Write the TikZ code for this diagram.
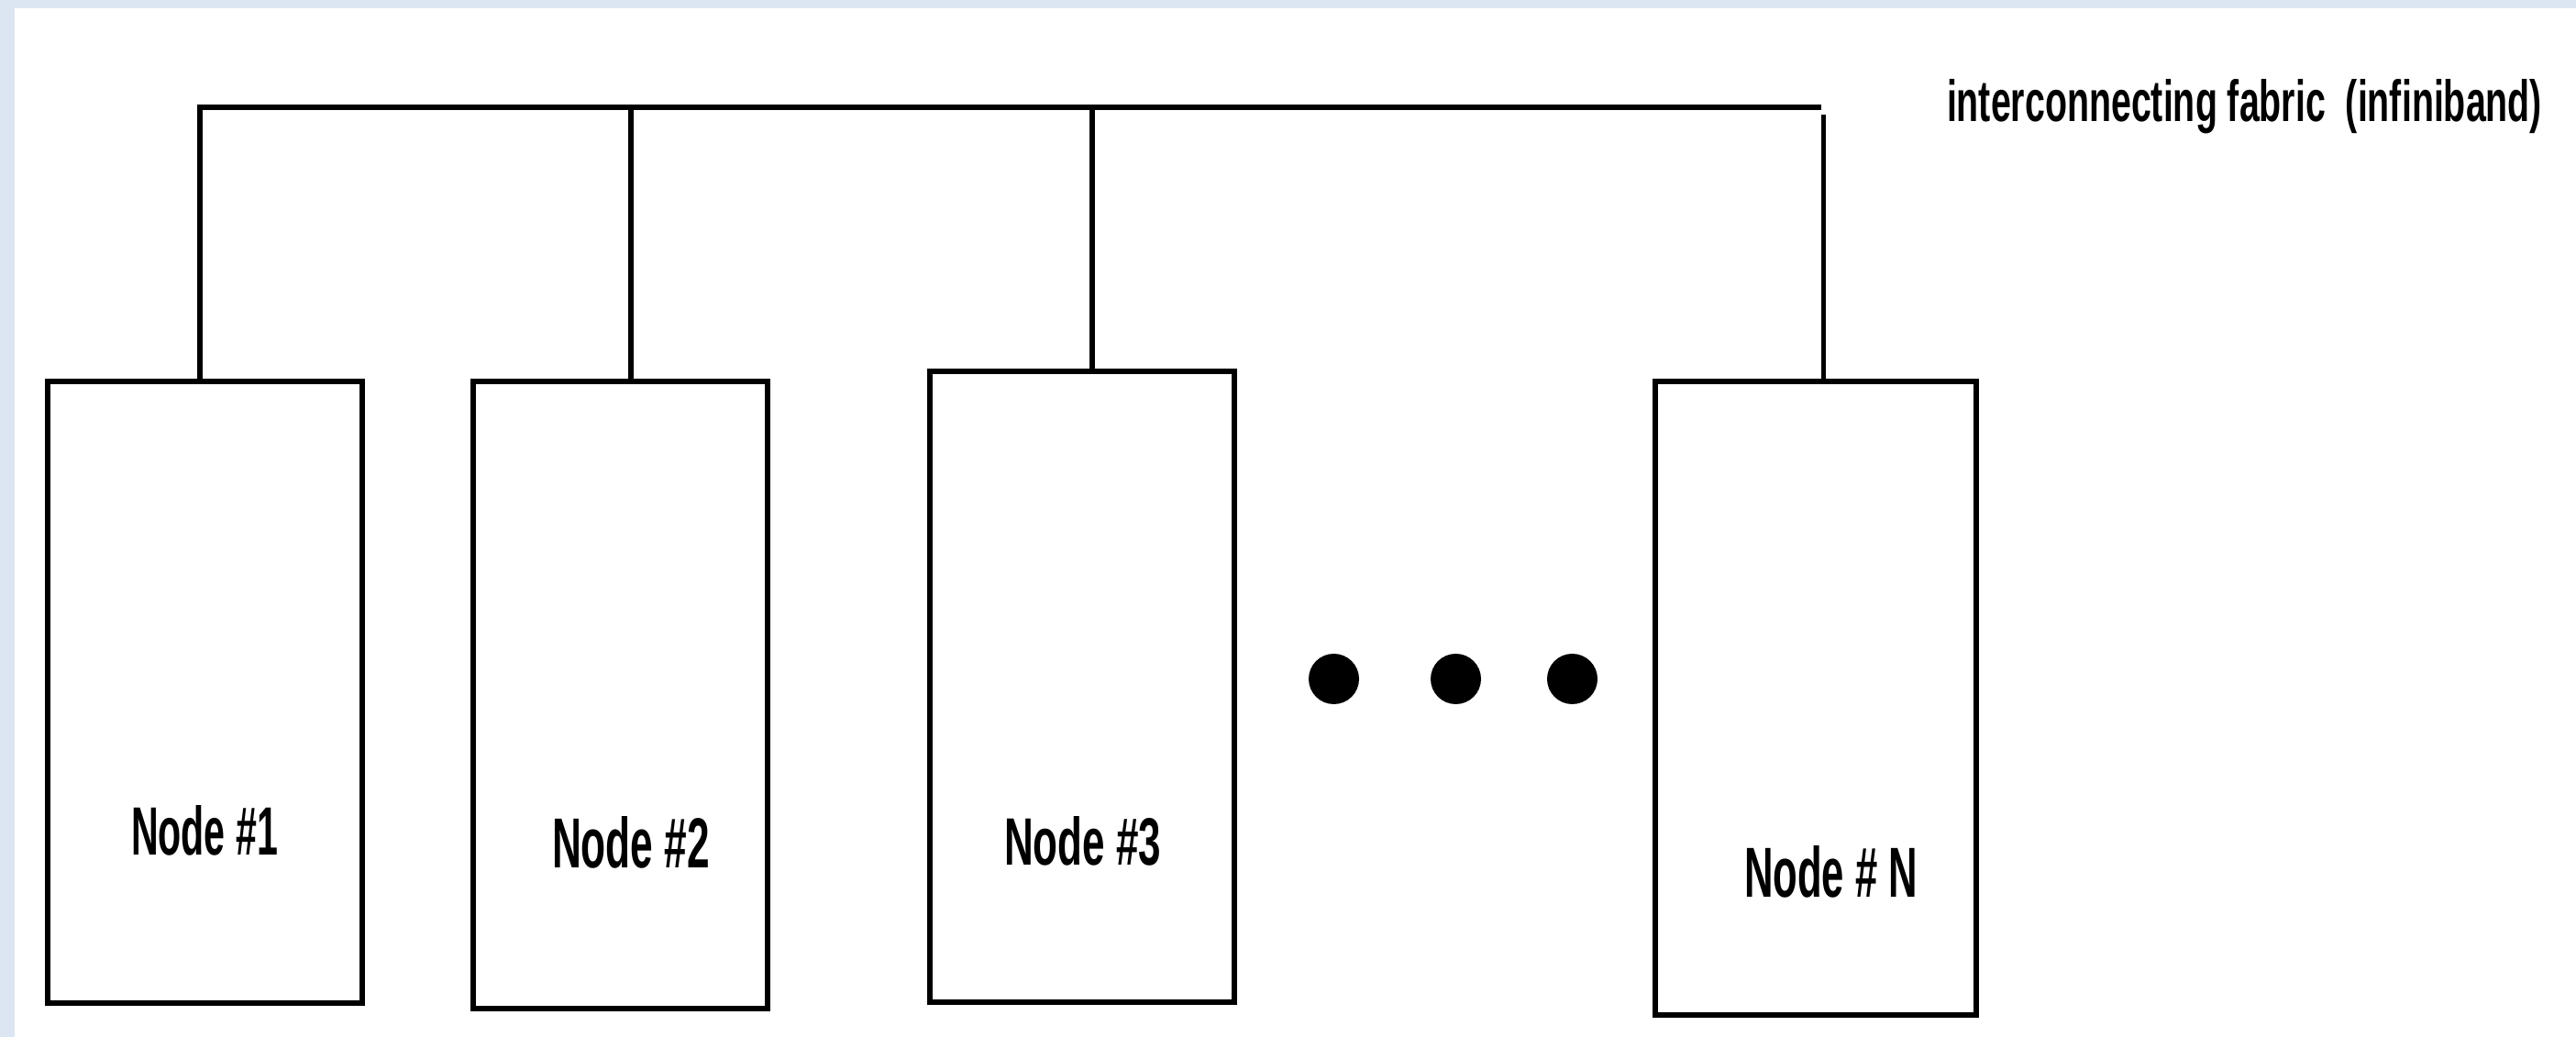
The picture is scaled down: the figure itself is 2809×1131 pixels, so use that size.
\documentclass[tikz,border=0pt]{standalone}
\usepackage{fontspec}
\setmainfont{Liberation Sans}
\definecolor{bgblue}{HTML}{DCE6F2}
\begin{document}
\begin{tikzpicture}[x=0.25pt,y=-0.25pt, line width=1.375pt,
  box/.style={draw=black, rectangle, outer sep=0pt, inner sep=0pt, anchor=north west},
  dot/.style={circle, fill=black, inner sep=0pt, outer sep=0pt, minimum size=13.75pt},
  lbl/.style={inner sep=0pt, outer sep=0pt, font=\fontsize{20}{24}\selectfont\bfseries},
  wire/.style={draw=black, line width=1.375pt}]
% background
\fill[bgblue] (0,0) rectangle (2809,1131);
\fill[white] (16,9) rectangle (2809,1131);
\useasboundingbox (0,0) rectangle (2809,1131);

% boxes
\node[box, minimum width=85.75pt, minimum height=169.5pt] (box1) at (52,416) {};
\node[box, minimum width=80.25pt, minimum height=171pt] (box2) at (516,416) {};
\node[box, minimum width=83pt, minimum height=172pt] (box3) at (1014,405) {};
\node[box, minimum width=87.5pt, minimum height=172.75pt] (boxN) at (1805,416) {};

% labels
\node[lbl] (l1) at (223,906) {\resizebox{40pt}{13.5pt}{Node \#1}};
\node[lbl] (l2) at (688,919) {\resizebox{43pt}{14pt}{Node \#2}};
\node[lbl] (l3) at (1180.5,917.5) {\resizebox{42.75pt}{13.25pt}{Node \#3}};
\node[lbl] (lN) at (1996.5,951) {\resizebox{47.25pt}{14pt}{Node \# N}};
\node[lbl, anchor=base west] (fab) at (2123,133) {\resizebox{162.25pt}{11.5pt}{interconnecting fabric\ \ (infiniband)}};

% dots
\node[dot] (d1) at (1454.5,740.5) {};
\node[dot] (d2) at (1587.5,740.5) {};
\node[dot] (d3) at (1714.5,740.5) {};

% bus
\coordinate (busL) at (218,117);
\coordinate (busR) at (1986,117);
\coordinate (tap2) at (688,117);
\coordinate (tap3) at (1191,117);
\coordinate (tapN) at (1988.5,125);
\draw[wire] (box1.north -| busL) -- (busL) -- (busR);
\draw[wire] (tap2) -- (tap2 |- box2.north);
\draw[wire] (tap3) -- (tap3 |- box3.north);
\draw[wire] (tapN) -- (tapN |- boxN.north);
\end{tikzpicture}
\end{document}
